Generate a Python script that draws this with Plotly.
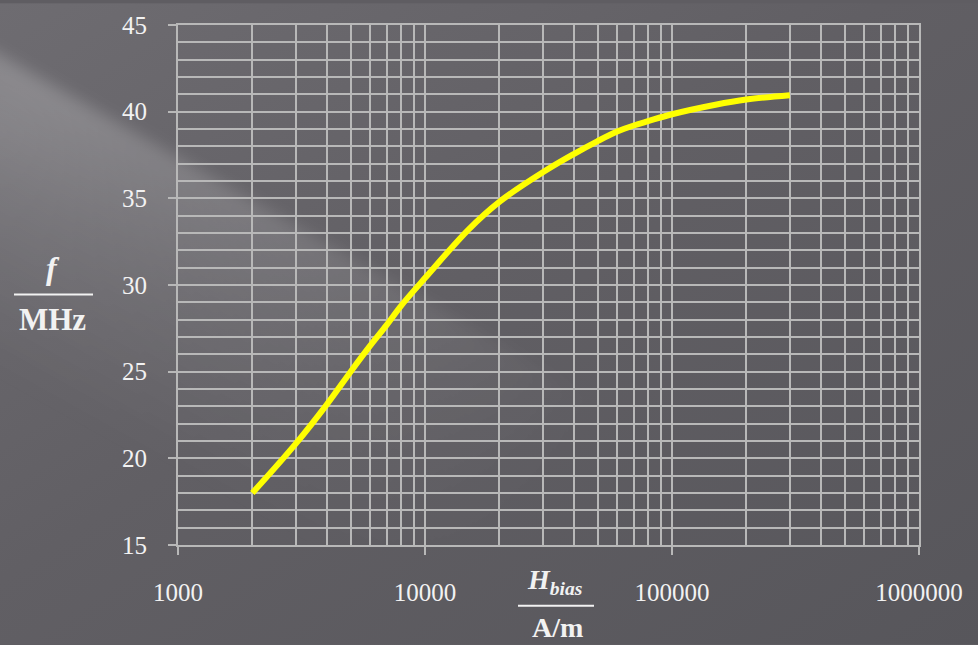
import base64
import plotly.graph_objects as go

# ---- data ----
h_bias = [2000, 3000, 4000, 5000, 6000, 7000, 8000, 10000, 15000, 20000, 30000,
          40000, 50000, 60000, 70000, 80000, 100000, 150000, 200000, 300000]
freq = [18.0, 20.85, 23.1, 25.0, 26.5, 27.7, 28.8, 30.4, 33.2, 34.8, 36.5,
        37.55, 38.3, 38.85, 39.2, 39.45, 39.85, 40.4, 40.7, 40.95]

x_tickvals = [1000, 10000, 100000, 1000000]
x_ticktext = ["1000", "10000", "100000", "1000000"]
y_tickvals = [15, 20, 25, 30, 35, 40, 45]

W, H = 978, 645
L, R, T, B = 178, 919, 22, 545  # plot area in pixels
pw, ph = R - L, B - T

# ---- background (gradient with a light diagonal streak) as an SVG image ----
svg = f"""<svg xmlns='http://www.w3.org/2000/svg' width='{W}' height='{H}' viewBox='0 0 {W} {H}'>
<defs>
<linearGradient id='bg' x1='0' y1='0' x2='1' y2='1'>
<stop offset='0' stop-color='#6e6c71'/>
<stop offset='0.45' stop-color='#615f64'/>
<stop offset='1' stop-color='#57565b'/>
</linearGradient>
<linearGradient id='band' gradientUnits='userSpaceOnUse' x1='0' y1='50' x2='-140' y2='300'>
<stop offset='0' stop-color='#ffffff' stop-opacity='0.24'/>
<stop offset='0.4' stop-color='#ffffff' stop-opacity='0.13'/>
<stop offset='1' stop-color='#ffffff' stop-opacity='0'/>
</linearGradient>
<radialGradient id='fade' gradientUnits='userSpaceOnUse' cx='0' cy='130' r='660'>
<stop offset='0' stop-color='#ffffff' stop-opacity='1'/>
<stop offset='0.55' stop-color='#ffffff' stop-opacity='0.5'/>
<stop offset='1' stop-color='#ffffff' stop-opacity='0'/>
</radialGradient>
<mask id='m'><rect x='0' y='0' width='{W}' height='{H}' fill='url(#fade)'/></mask>
<filter id='blur' x='-0.2' y='-0.2' width='1.4' height='1.4'><feGaussianBlur stdDeviation='8'/></filter>
</defs>
<rect x='0' y='0' width='{W}' height='{H}' fill='url(#bg)'/>
<g mask='url(#m)'>
<polygon points='-20,40 780,505 780,900 -20,900' fill='url(#band)' filter='url(#blur)'/>
</g>
</svg>"""
bg_src = "data:image/svg+xml;base64," + base64.b64encode(svg.encode()).decode()

grid_c = "#b8b8b8"
font_c = "#f2f2f2"
serif = "Liberation Serif, Times New Roman, serif"

fig = go.Figure()
fig.add_trace(go.Scatter(
    x=h_bias, y=freq, mode="lines",
    line=dict(color="#ffff00", width=6, shape="spline", smoothing=1.0),
    hoverinfo="x+y", showlegend=False,
))

fig.update_layout(
    width=W, height=H,
    margin=dict(l=L, r=W - R, t=T, b=H - B, pad=0),
    paper_bgcolor="#5f5d62",
    plot_bgcolor="rgba(0,0,0,0)",
    font=dict(family=serif, color=font_c, size=25),
    images=[dict(
        source=bg_src, xref="paper", yref="paper",
        x=-L / pw, y=1 + T / ph, sizex=W / pw, sizey=H / ph,
        xanchor="left", yanchor="top", sizing="stretch", layer="below",
    )],
    xaxis=dict(
        type="log", range=[3, 6],
        tickvals=x_tickvals, ticktext=x_ticktext,
        ticks="outside", ticklen=8, tickwidth=1.8, tickcolor=grid_c,
        showline=True, linecolor=grid_c, linewidth=1.8, mirror=True,
        showgrid=True, gridcolor=grid_c, gridwidth=1.6,
        minor=dict(dtick="D1", showgrid=True, gridcolor=grid_c, gridwidth=1.6),
        ticklabelstandoff=16,
        tickfont=dict(family=serif, size=25, color=font_c),
        zeroline=False,
    ),
    yaxis=dict(
        range=[15, 45], tickvals=y_tickvals,
        ticks="outside", ticklen=8, tickwidth=1.8, tickcolor=grid_c,
        showline=True, linecolor=grid_c, linewidth=1.8, mirror=True,
        showgrid=True, gridcolor=grid_c, gridwidth=1.6,
        minor=dict(dtick=1, showgrid=True, gridcolor=grid_c, gridwidth=1.6),
        ticklabelstandoff=16,
        tickfont=dict(family=serif, size=25, color=font_c),
        zeroline=False,
    ),
)

def px_x(x):
    return (x - L) / pw

def px_y(y):
    return (B - y) / ph

# y axis title: f / MHz
fig.add_annotation(text="<b><i>f</i></b>", x=px_x(53), y=px_y(266), xref="paper", yref="paper",
                   showarrow=False, font=dict(family=serif, size=32, color=font_c),
                   xanchor="center", yanchor="middle")
fig.add_annotation(text="<b>MHz</b>", x=px_x(53), y=px_y(318), xref="paper", yref="paper",
                   showarrow=False, font=dict(family=serif, size=31, color=font_c),
                   xanchor="center", yanchor="middle")
fig.add_shape(type="line", xref="paper", yref="paper",
              x0=px_x(14), x1=px_x(93), y0=px_y(293), y1=px_y(293),
              line=dict(color=font_c, width=2))

# x axis title: H_bias / A/m
fig.add_annotation(text="<b><i>H</i></b><sub><b><i>bias</i></b></sub>", x=px_x(555), y=px_y(582),
                   xref="paper", yref="paper", showarrow=False,
                   font=dict(family=serif, size=28, color=font_c),
                   xanchor="center", yanchor="middle")
fig.add_annotation(text="<b>A/m</b>", x=px_x(557), y=px_y(628), xref="paper", yref="paper",
                   showarrow=False, font=dict(family=serif, size=28, color=font_c),
                   xanchor="center", yanchor="middle")
fig.add_shape(type="line", xref="paper", yref="paper",
              x0=px_x(518), x1=px_x(594), y0=px_y(606), y1=px_y(606),
              line=dict(color=font_c, width=2))

fig.write_html(
    "out.html",
    config={"displayModeBar": False},
    post_script="document.body.style.margin='0';document.body.style.overflow='hidden';",
)
